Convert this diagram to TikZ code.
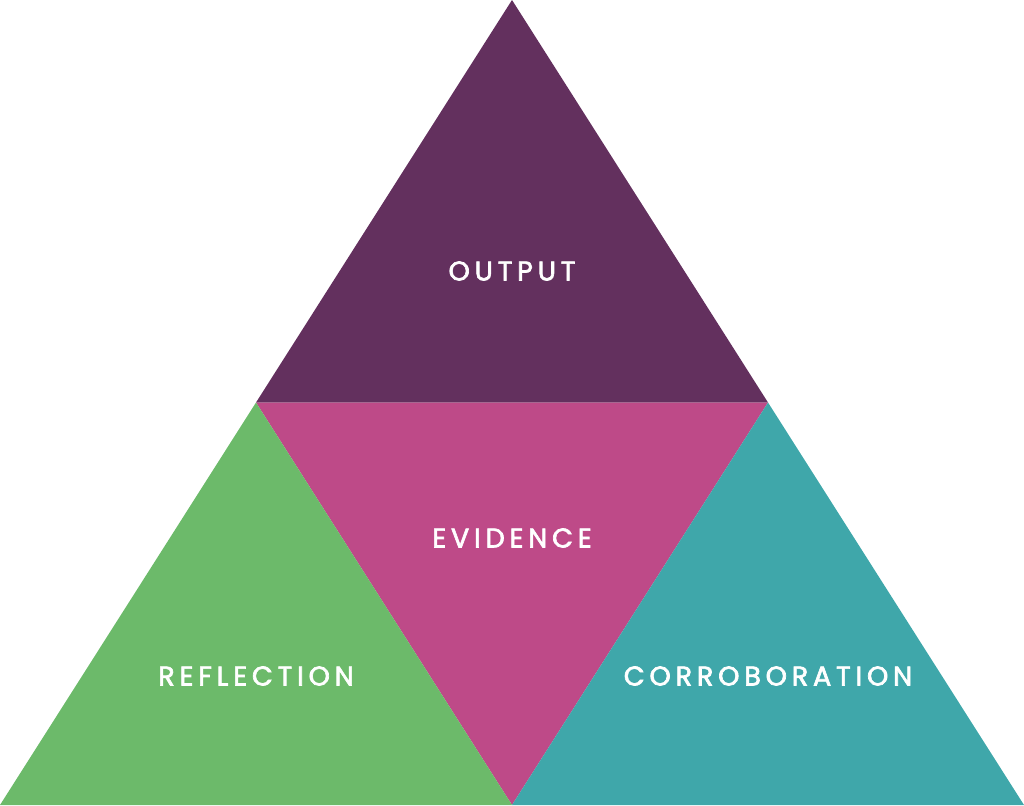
\documentclass[tikz,border=0pt]{standalone}
\usepackage{fontspec}
\newfontfamily\labelfont[LetterSpace=18,FakeBold=2.5]{Poppins}
\definecolor{outputcol}{HTML}{63305E}
\definecolor{evidencecol}{HTML}{BE4A88}
\definecolor{reflectcol}{HTML}{6CBA6A}
\definecolor{corrobcol}{HTML}{3FA7AA}
\begin{document}
\begin{tikzpicture}
  [x=1pt,y=-1pt, every node/.style={text=white,font=\labelfont\fontsize{27}{30}\selectfont,inner sep=0pt}]
  \useasboundingbox (0,0) rectangle (1024,805);

  % corners and midpoints of the big triangle
  \coordinate (top) at (512,0);
  \coordinate (bl) at (0,805);
  \coordinate (br) at (1024,805);
  \coordinate (ml) at (256,402.5);
  \coordinate (mr) at (768,402.5);
  \coordinate (mb) at (512,805);

  \fill[outputcol] (top) -- (mr) -- (ml) -- cycle;
  \fill[evidencecol] (ml) -- (mr) -- (mb) -- cycle;
  \fill[reflectcol] (ml) -- (mb) -- (bl) -- cycle;
  \fill[corrobcol] (mr) -- (br) -- (mb) -- cycle;

  \node (output) at (512,271) {OUTPUT};
  \node (evidence) at (512,538) {EVIDENCE};
  \node (reflection) at (256,676) {REFLECTION};
  \node (corrob) at (768,676) {CORROBORATION};
\end{tikzpicture}
\end{document}
